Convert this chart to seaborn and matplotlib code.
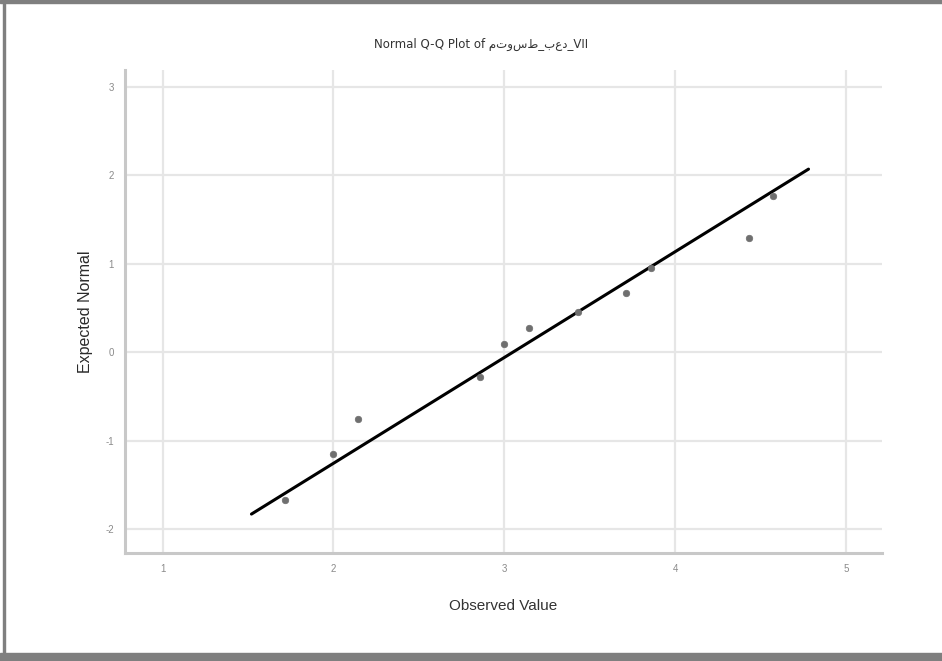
import matplotlib
matplotlib.use("Agg")
import matplotlib.pyplot as plt
import seaborn as sns
import pandas as pd
from matplotlib.patches import Rectangle

# Data
observed = [1.714, 2.000, 2.143, 2.857, 3.000, 3.143, 3.429, 3.714, 3.857, 4.429, 4.571]
expected = [-1.67, -1.15, -0.76, -0.28, 0.09, 0.27, 0.45, 0.67, 0.95, 1.29, 1.77]
line_x = [1.52, 4.78]
line_y = [-1.83, 2.07]
x_ticks = [1, 2, 3, 4, 5]
y_ticks = [-2, -1, 0, 1, 2, 3]
title = "Normal Q-Q Plot of متوسط_بعد_VII"
x_label = "Observed Value"
y_label = "Expected Normal"

sns.set_style("white")
plt.rcParams['font.family'] = ['Liberation Sans', 'DejaVu Sans']

fig = plt.figure(figsize=(9.42, 6.61), dpi=100)
ax = fig.add_axes([0.1327, 0.1634, 0.9363 - 0.1327, 0.894 - 0.1634])

pts = pd.DataFrame({"obs": observed, "exp": expected})
ln = pd.DataFrame({"x": line_x, "y": line_y})

sns.lineplot(data=ln, x="x", y="y", ax=ax, color="black", linewidth=2.2, zorder=3)
sns.scatterplot(data=pts, x="obs", y="exp", ax=ax, color="#6f6f6f", s=22,
                marker="o", edgecolor="#6f6f6f", linewidth=0.5, zorder=4)

ax.set_xlim(0.78, 5.21)
ax.set_ylim(-2.27, 3.19)
ax.set_xticks(x_ticks)
ax.set_yticks(y_ticks)
ax.set_xticklabels([str(t) for t in x_ticks])
ax.set_yticklabels([str(t) for t in y_ticks])
ax.grid(True, color="#e6e6e6", linewidth=1.6)
ax.set_axisbelow(True)
ax.tick_params(axis="both", length=0, labelsize=7, colors="#8a8a8a", pad=8)
for s in ["top", "right"]:
    ax.spines[s].set_visible(False)
for s in ["left", "bottom"]:
    ax.spines[s].set_color("#c8c8c8")
    ax.spines[s].set_linewidth(2.2)

ax.set_xlabel(x_label, fontsize=11, color="#333333", labelpad=18)
ax.set_ylabel(y_label, fontsize=11.5, color="#2a2a2a", labelpad=9)
ax.set_title(title, fontsize=8.5, color="#333333", pad=16, x=0.47,
             family='DejaVu Sans')

# outer frame lines (grey border)
fig.add_artist(Rectangle((0, 0), 1, 8 / 661, transform=fig.transFigure,
                         color="#7f7f7f", zorder=0))
fig.add_artist(Rectangle((0, 1 - 3 / 661), 1, 3 / 661, transform=fig.transFigure,
                         color="#7f7f7f", zorder=0))
fig.add_artist(Rectangle((3 / 942, 0), 2 / 942, 1, transform=fig.transFigure,
                         color="#7f7f7f", zorder=0))

fig.savefig("out.png", dpi=100)
